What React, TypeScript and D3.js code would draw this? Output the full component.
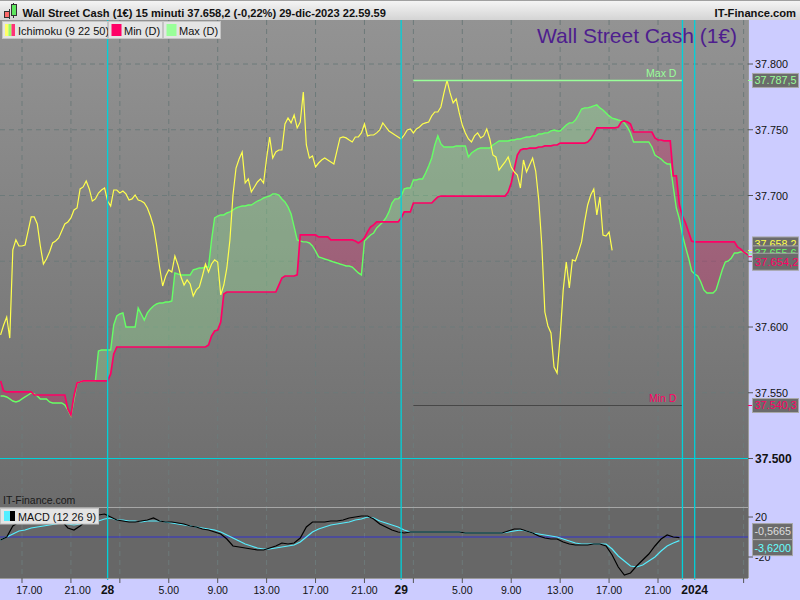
import React, { useEffect } from "react";
import * as d3 from "d3";

// ---------- DATA ----------
// 15-minute bars, first bar at 27-dic 15:15 (hours counted from 27-dic 00:00)
const START_HOUR = 15.25;
const BAR_HOURS = 0.25;

// Ichimoku chikou span (yellow)
const chikou = [
  37594.0, 37601.5, 37607.6, 37591.6, 37658.6, 37666.2, 37661.6, 37661.6, 37662.4, 37673.0,
  37683.7, 37683.7, 37678.4, 37661.6, 37647.9, 37651.7, 37657.1, 37663.9, 37665.4, 37667.7,
  37673.0, 37678.4, 37679.9, 37682.9, 37689.0, 37690.5, 37705.0, 37706.5, 37711.0, 37705.0,
  37695.8, 37697.4, 37701.9, 37704.2, 37705.7, 37695.8, 37692.0, 37704.2, 37704.2, 37701.9,
  37703.4, 37701.2, 37696.6, 37697.4, 37700.4, 37696.6, 37695.8, 37694.3, 37690.5, 37684.4,
  37676.8, 37662.4, 37645.6, 37631.2, 37638.8, 37643.4, 37641.8, 37654.0, 37647.2, 37638.0,
  37631.9, 37635.8, 37632.7, 37623.6, 37628.2, 37630.4, 37638.8, 37647.9, 37641.8, 37647.9,
  37651.0, 37649.4, 37624.4, 37631.9, 37644.9, 37666.2, 37700.4, 37720.9, 37727.8, 37733.1,
  37709.5, 37712.6, 37702.7, 37706.5, 37710.3, 37712.6, 37709.5, 37728.5, 37744.5, 37728.5,
  37733.1, 37734.6, 37734.6, 37754.4, 37758.9, 37755.2, 37761.2, 37751.4, 37755.9, 37778.7,
  37738.4, 37728.5, 37730.1, 37721.7, 37724.7, 37727.0, 37728.5, 37727.0, 37725.5, 37724.0,
  37733.9, 37743.8, 37744.5, 37743.8, 37742.2, 37740.7, 37744.5, 37744.5, 37747.6, 37754.4,
  37745.3, 37746.0, 37746.0, 37747.6, 37749.8, 37755.2, 37752.1, 37749.1, 37747.6, 37746.0,
  37744.5, 37743.0, 37746.0, 37749.8, 37750.6, 37747.6, 37750.6, 37752.1, 37754.4, 37755.2,
  37755.9, 37760.5, 37763.5, 37763.5, 37767.3, 37778.0, 37787.5, 37778.0, 37770.4, 37773.4,
  37762.8, 37753.6, 37747.6, 37743.0, 37740.7, 37745.3, 37747.6, 37743.8, 37745.3, 37750.6,
  37743.0, 37730.8, 37729.3, 37719.4, 37722.5, 37725.5, 37729.3, 37721.7, 37717.9, 37715.6,
  37705.7, 37727.0, 37717.9, 37723.2, 37728.5, 37718.6, 37696.6, 37662.4, 37611.4, 37600.8,
  37595.5, 37569.6, 37565.0, 37592.4, 37628.2, 37649.4, 37629.7, 37651.0, 37650.2, 37657.1,
  37664.7, 37679.9, 37692.8, 37700.4, 37705.0, 37685.2, 37698.9, 37669.9, 37669.1, 37672.2,
  37658.2,
];

// Senkou span A (green)
const spanA = [
  37547.5, 37547.5, 37546.8, 37545.3, 37543.7, 37543.0, 37543.7, 37545.3, 37546.8, 37548.3,
  37549.8, 37549.1, 37547.5, 37545.3, 37545.3, 37545.3, 37543.0, 37542.2, 37542.2, 37542.2,
  37542.2, 37540.7, 37536.9, 37532.3, 37544.5, 37557.4, 37558.2, 37559.0, 37559.0, 37559.0,
  37559.0, 37559.0, 37581.8, 37582.5, 37582.5, 37582.5, 37582.5, 37601.5, 37608.4, 37609.9,
  37610.7, 37600.0, 37600.0, 37600.0, 37600.0, 37614.4, 37609.9, 37605.3, 37610.7, 37613.7,
  37616.0, 37617.5, 37618.3, 37618.3, 37619.0, 37619.0, 37619.8, 37641.1, 37640.3, 37639.6,
  37639.6, 37639.6, 37639.6, 37643.4, 37644.1, 37644.9, 37644.9, 37645.6, 37645.6, 37666.2,
  37682.9, 37684.4, 37685.2, 37685.2, 37686.7, 37687.5, 37689.0, 37690.5, 37691.3, 37692.0,
  37692.0, 37692.8, 37692.8, 37694.3, 37695.8, 37696.6, 37698.1, 37698.9, 37699.6, 37701.2,
  37701.2, 37700.4, 37697.4, 37695.1, 37691.3, 37686.0, 37676.1, 37666.2, 37665.4, 37664.7,
  37664.7, 37663.9, 37661.6, 37657.8, 37653.3, 37652.5, 37651.7, 37651.0, 37650.2, 37649.4,
  37648.7, 37647.9, 37647.2, 37646.4, 37646.4, 37645.6, 37643.4, 37641.1, 37639.6, 37665.4,
  37667.7, 37670.0, 37671.5, 37675.3, 37677.6, 37679.9, 37682.9, 37687.5, 37694.3, 37697.4,
  37697.4, 37699.6, 37705.0, 37705.7, 37705.7, 37711.8, 37711.8, 37712.6, 37712.6, 37717.1,
  37722.5, 37728.5, 37738.4, 37745.3, 37739.2, 37736.9, 37736.9, 37736.9, 37736.9, 37737.7,
  37737.7, 37737.7, 37737.7, 37729.3, 37732.3, 37733.9, 37735.4, 37736.1, 37736.1, 37736.1,
  37736.1, 37738.4, 37739.9, 37741.5, 37741.5, 37741.5, 37741.5, 37742.2, 37742.2, 37743.0,
  37743.0, 37743.8, 37744.5, 37744.5, 37745.3, 37745.3, 37746.8, 37746.8, 37747.6, 37747.6,
  37749.1, 37749.8, 37749.1, 37749.1, 37751.4, 37753.6, 37755.2, 37755.2, 37757.4, 37761.2,
  37765.8, 37766.6, 37766.6, 37767.3, 37768.1, 37768.9, 37766.6, 37765.0, 37762.8, 37760.5,
  37758.9, 37758.2, 37757.4, 37756.7, 37755.2, 37752.1, 37747.6, 37740.7, 37740.7, 37740.7,
  37740.7, 37740.7, 37740.7, 37736.9, 37730.8, 37729.3, 37727.8, 37725.5, 37724.0, 37724.0,
  37706.5, 37690.5, 37682.2, 37670.0, 37660.9, 37652.5, 37642.6, 37640.3, 37638.8, 37634.2,
  37628.2, 37625.9, 37625.9, 37625.9, 37628.2, 37635.8, 37643.4, 37649.4, 37650.2, 37652.5,
  37656.3, 37656.3, 37657.1, 37657.1, 37656.3, 37655.6,
];

// Senkou span B (red)
const spanB = [
  37559.0, 37551.4, 37550.6, 37550.6, 37550.6, 37550.6, 37550.6, 37550.6, 37550.6, 37550.6,
  37550.6, 37548.3, 37548.3, 37548.3, 37548.3, 37548.3, 37548.3, 37548.3, 37548.3, 37548.3,
  37548.3, 37548.3, 37537.7, 37533.1, 37547.5, 37557.4, 37558.2, 37559.0, 37559.0, 37559.0,
  37559.0, 37559.0, 37559.0, 37559.0, 37559.0, 37559.0, 37564.3, 37579.5, 37584.8, 37584.8,
  37584.8, 37584.8, 37584.8, 37584.8, 37584.8, 37584.8, 37584.8, 37584.8, 37584.8, 37584.8,
  37584.8, 37584.8, 37584.8, 37584.8, 37584.8, 37584.8, 37584.8, 37584.8, 37584.8, 37584.8,
  37584.8, 37584.8, 37584.8, 37584.8, 37584.8, 37584.8, 37584.8, 37584.8, 37586.3, 37593.2,
  37597.0, 37597.7, 37603.8, 37625.1, 37626.6, 37626.6, 37626.6, 37626.6, 37626.6, 37626.6,
  37626.6, 37626.6, 37626.6, 37626.6, 37626.6, 37626.6, 37626.6, 37626.6, 37626.6, 37626.6,
  37626.6, 37631.9, 37637.3, 37638.8, 37638.8, 37638.8, 37638.8, 37639.6, 37670.0, 37670.0,
  37670.0, 37670.0, 37670.0, 37670.0, 37668.5, 37668.5, 37668.5, 37668.5, 37666.2, 37666.2,
  37666.2, 37666.2, 37666.2, 37666.2, 37666.2, 37666.2, 37665.4, 37663.9, 37665.4, 37667.7,
  37672.3, 37676.1, 37677.6, 37679.9, 37679.9, 37679.9, 37679.9, 37679.9, 37679.9, 37679.9,
  37679.9, 37682.9, 37687.5, 37687.5, 37687.5, 37694.3, 37694.3, 37694.3, 37694.3, 37694.3,
  37694.3, 37694.3, 37696.6, 37698.9, 37699.6, 37699.6, 37699.6, 37699.6, 37699.6, 37699.6,
  37699.6, 37699.6, 37699.6, 37699.6, 37699.6, 37699.6, 37699.6, 37699.6, 37699.6, 37699.6,
  37699.6, 37699.6, 37699.6, 37699.6, 37699.6, 37699.6, 37702.7, 37709.5, 37720.2, 37730.8,
  37734.6, 37735.4, 37735.4, 37736.1, 37736.1, 37736.1, 37736.9, 37736.9, 37737.7, 37737.7,
  37737.7, 37738.4, 37738.4, 37739.9, 37739.9, 37739.9, 37739.9, 37739.9, 37739.9, 37739.9,
  37739.9, 37739.9, 37740.7, 37743.0, 37746.8, 37751.4, 37751.4, 37751.4, 37751.4, 37751.4,
  37751.4, 37751.4, 37752.1, 37755.9, 37756.7, 37755.9, 37754.4, 37748.3, 37748.3, 37748.3,
  37748.3, 37748.3, 37748.3, 37748.3, 37743.8, 37742.2, 37742.2, 37741.5, 37741.5, 37741.5,
  37714.9, 37714.9, 37692.8, 37684.4, 37679.1, 37672.3, 37665.4, 37664.7, 37664.7, 37664.7,
  37664.7, 37664.7, 37664.7, 37664.7, 37664.7, 37664.7, 37664.7, 37664.7, 37664.7, 37664.7,
  37664.7, 37660.9, 37659.4, 37657.1, 37655.6, 37654.2,
];

// MACD (12 26 9), one value every half hour from the first bar
const MACD_STEP = 0.5;
const macdLine = [
  -3, 0, 11, 15, 18, 19, 20, 20, 19, 18,
  16, 9, 7, 11, 16, 18, 22, 23, 20, 17,
  16, 15, 15, 16, 17, 19, 16, 15, 15, 14,
  13, 11, 10, 8, 7, 5, 3, -2, -9, -10,
  -11, -12, -13, -13, -11, -9, -6, -7, -6, -1,
  10, 15, 15, 15, 16, 16, 17, 19, 20, 21,
  21, 18, 13, 10, 7, 5, 4, 5, 5, 5,
  5, 5, 5, 5, 5, 5, 4, 4, 4, 4,
  4, 4, 4, 6, 8, 8, 6, 4, 1, -1,
  -2, -2, -5, -7, -8, -8, -8, -7, -7, -9,
  -18, -30, -38, -36, -29, -23, -17, -9, -2, 2,
  0, -0.5665,
];
const signalLine = [
  -3, 0, 3, 6, 7, 9, 10, 11, 12, 13,
  14, 13, 12, 13, 14, 15, 16, 18, 19, 17,
  17, 16, 16, 15, 16, 16, 16, 15, 14, 13,
  12, 11, 10, 9, 8, 7, 5, 2, -1, -4,
  -7, -9, -11, -12, -12, -11, -10, -9, -8, -5,
  0, 5, 8, 10, 12, 13, 14, 15, 17, 18,
  20, 19, 16, 14, 12, 10, 7, 5, 5, 5,
  5, 5, 5, 5, 5, 5, 4, 4, 4, 4,
  4, 4, 4, 5, 6, 7, 6, 4, 3, 2,
  1, 0, -2, -4, -6, -7, -7, -7, -7, -7,
  -12, -19, -24, -29, -30, -28, -24, -20, -14, -9,
  -6, -3.62,
];

const maxD = 37787.5;
const minD = 37540.3;
const dayStartHour = 49; // 29-dic 1.00
const lastBarHour = 71; // 29-dic 23.00

const gridHours = [17, 21, 25, 29, 33, 37, 41, 45, 49, 53, 57, 61, 65, 69, 76];
const separatorHours = [24, 48, 71, 72];
const axisLabelHours = [17.6, 21.55, 24, 29, 33, 37, 41, 45, 48, 53, 57, 61, 65, 69, 72];
const axisLabels = ["17.00", "21.00", "28", "5.00", "9.00", "13.00", "17.00", "21.00", "29", "5.00", "9.00", "13.00", "17.00", "21.00", "2024"];
const axisLabelBold = [false, false, true, false, false, false, false, false, true, false, false, false, false, false, true];
const priceGrid = [37550, 37600, 37650, 37700, 37750, 37800];
const priceLabels = [37500, 37550, 37600, 37700, 37750, 37800];
const referenceLevel = 37500;
const macdTicks = [-20, 20];

const headerText = "Wall Street Cash (1€) 15 minuti 37.658,2 (-0,22%) 29-dic-2023 22.59.59";
const legendItems = ["Ichimoku (9 22 50)", "Min (D)", "Max (D)"];

// ---------- STYLE ----------
const FONT = "'Liberation Sans', Arial, sans-serif";
const YELLOW = "#ffff4d";
const GREEN = "#66ff66";
const RED = "#ff0066";
const MAXC = "#99ff99";
const CYAN = "#00d2da";
const PL = 0, PR = 748, MT = 20, MB = 507, KB = 578;

const itLocale = d3.formatLocale({ decimal: ",", thousands: ".", grouping: [3], currency: ["", "€"], minus: "-" } as any);
const fmtAxis = itLocale.format(",.0f");
const fmtPrice = itLocale.format(",.1f");
const fmtMacd = itLocale.format(".4f");

function ValueBox({ yc, text, color, h = 14, fs = 10.8, w = 46 }: any) {
  return (
    <g>
      <rect x={752.5} y={yc - h / 2} width={w} height={h} fill="#6b6b6b" stroke="#a8a8a8" />
      <text x={754.5} y={yc + fs * 0.36} fill={color} fontSize={fs}>{text}</text>
    </g>
  );
}

export default function App() {
  useEffect(() => {
    document.body.style.margin = "0";
  }, []);

  const x = d3.scaleLinear().domain([17, 69]).range([22, 658]);
  const y = d3.scaleLinear().domain([37500, 37800]).range([458.5, 64]);
  const ym = d3.scaleLinear().domain([0, 20]).range([537, 517]);

  const cloud = spanA.map((a, i) => ({ h: START_HOUR + i * BAR_HOURS, a, b: spanB[i] }));
  type CP = typeof cloud[number];
  const between = d3.area<CP>().x((d) => x(d.h)).y0((d) => y(d.a)).y1((d) => y(d.b));
  const aboveB = d3.area<CP>().x((d) => x(d.h)).y0(MT).y1((d) => y(d.b));
  const belowB = d3.area<CP>().x((d) => x(d.h)).y0(MB).y1((d) => y(d.b));
  const lineA = d3.line<CP>().x((d) => x(d.h)).y((d) => y(d.a));
  const lineB = d3.line<CP>().x((d) => x(d.h)).y((d) => y(d.b));
  const lineChikou = d3.line<number>().x((_, i) => x(START_HOUR + i * BAR_HOURS)).y((v) => y(v));
  const lineMacd = d3.line<number>().x((_, i) => x(START_HOUR + i * MACD_STEP)).y((v) => ym(v));

  const lastY = chikou[chikou.length - 1];
  const lastA = spanA[spanA.length - 1];
  const lastB = spanB[spanB.length - 1];

  let lx = 2;
  const legendBoxes = [
    { w: 105, label: legendItems[0], icon: "ichi" },
    { w: 54, label: legendItems[1], icon: RED },
    { w: 57, label: legendItems[2], icon: MAXC },
  ].map((b) => {
    const r = { ...b, x: lx };
    lx += b.w + 1;
    return r;
  });

  return (
    <svg width={800} height={600} style={{ position: "absolute", left: 0, top: 0, display: "block" }} fontFamily={FONT}>
      <defs>
        <linearGradient id="hdr" x1="0" y1="0" x2="0" y2="1">
          <stop offset="0" stopColor="#f6f6f6" />
          <stop offset="1" stopColor="#d4d4d4" />
        </linearGradient>
        <linearGradient id="mainbg" x1="0" y1="0" x2="0" y2="1">
          <stop offset="0" stopColor="#939393" />
          <stop offset="1" stopColor="#6c6c6c" />
        </linearGradient>
        <clipPath id="mainClip"><rect x={PL} y={MT} width={PR - PL} height={MB - MT} /></clipPath>
        <clipPath id="macdClip"><rect x={PL} y={MB} width={PR - PL} height={KB - MB} /></clipPath>
        <clipPath id="aboveB"><path d={aboveB(cloud) || ""} /></clipPath>
        <clipPath id="belowB"><path d={belowB(cloud) || ""} /></clipPath>
      </defs>

      {/* panels */}
      <rect x={0} y={0} width={800} height={600} fill="#ccccff" />
      <rect x={PL} y={MT} width={PR - PL} height={MB - MT} fill="url(#mainbg)" />
      <rect x={PL} y={MB} width={PR - PL} height={KB - MB} fill="#676767" />

      {/* grid */}
      {priceGrid.map((p) => (
        <line key={"hg" + p} x1={PL} x2={PR} y1={y(p)} y2={y(p)} stroke="#6d7a7a" strokeDasharray="5,4" />
      ))}
      {gridHours.map((h) => (
        <line key={"vg" + h} x1={x(h)} x2={x(h)} y1={MT} y2={KB} stroke="#6d7a7a" strokeDasharray="5,4" />
      ))}

      {/* cloud + lines */}
      <g clipPath="url(#mainClip)">
        <path d={between(cloud) || ""} fill="rgba(153,255,153,0.28)" clipPath="url(#aboveB)" />
        <path d={between(cloud) || ""} fill="rgba(255,0,102,0.24)" clipPath="url(#belowB)" />
        <path d={lineA(cloud) || ""} fill="none" stroke={GREEN} strokeWidth={1.4} />
        <path d={lineB(cloud) || ""} fill="none" stroke={RED} strokeWidth={1.7} />
        <path d={lineChikou(chikou) || ""} fill="none" stroke={YELLOW} strokeWidth={1.2} />
        {/* daily max / min */}
        <line x1={x(dayStartHour)} x2={x(lastBarHour)} y1={y(maxD)} y2={y(maxD)} stroke={MAXC} strokeWidth={1.5} />
        <text x={x(lastBarHour) - 6} y={y(maxD) - 3.5} fill={MAXC} fontSize={10.5} textAnchor="end">Max D</text>
        <line x1={x(dayStartHour)} x2={x(lastBarHour)} y1={y(minD)} y2={y(minD)} stroke="#474747" strokeWidth={1} />
        <text x={x(lastBarHour) - 6} y={y(minD) - 3.5} fill={RED} fontSize={10.5} textAnchor="end">Min D</text>
      </g>

      {/* reference level */}
      <line x1={PL} x2={PR} y1={y(referenceLevel)} y2={y(referenceLevel)} stroke={CYAN} strokeWidth={1.2} />

      {/* MACD */}
      <line x1={PL} x2={PR} y1={ym(0)} y2={ym(0)} stroke="#3333cc" strokeWidth={1.2} />
      <g clipPath="url(#macdClip)">
        <path d={lineMacd(signalLine) || ""} fill="none" stroke="#55eeff" strokeWidth={1.2} />
        <path d={lineMacd(macdLine) || ""} fill="none" stroke="#000" strokeWidth={1.2} />
      </g>
      <line x1={PL} x2={PR} y1={MB + 0.5} y2={MB + 0.5} stroke="#a6a6a6" />

      {/* day separators */}
      {separatorHours.map((h) => (
        <line key={"sep" + h} x1={x(h)} x2={x(h)} y1={MT} y2={KB + 2} stroke={CYAN} strokeWidth={1.3} />
      ))}

      {/* header */}
      <rect x={0} y={0} width={800} height={MT} fill="url(#hdr)" />
      <line x1={0} x2={800} y1={0.5} y2={0.5} stroke="#a0a0a0" />
      <line x1={9.5} x2={9.5} y1={9} y2={19} stroke="#333" />
      <rect x={4.5} y={11.5} width={5} height={6} fill="#ff6a6a" stroke="#333" />
      <line x1={13.5} x2={13.5} y1={3} y2={18} stroke="#333" />
      <rect x={11.5} y={4.5} width={5} height={11} fill="#5ee65e" stroke="#333" />
      <text x={22.5} y={16.5} fontSize={11.1} fontWeight="bold" fill="#111">{headerText}</text>
      <text x={796} y={16.5} fontSize={11.2} fontWeight="bold" fill="#111" textAnchor="end">IT-Finance.com</text>

      {/* legend */}
      {legendBoxes.map((b, i) => (
        <g key={"lg" + i}>
          <rect x={b.x + 0.5} y={21.5} width={b.w} height={17} fill="#e4e4e4" stroke="#c4c4c4" />
          {b.icon === "ichi" ? (
            <g>
              <rect x={b.x + 3} y={24} width={3.5} height={12} fill="#ffff66" />
              <rect x={b.x + 6.5} y={24} width={3} height={12} fill="#99ff66" />
              <rect x={b.x + 9.5} y={24} width={3.5} height={12} fill="#ff3377" />
            </g>
          ) : (
            <rect x={b.x + 3.5} y={24} width={10} height={12} fill={b.icon} />
          )}
          <text x={b.x + 16} y={34.5} fontSize={11} fill="#111">{b.label}</text>
        </g>
      ))}

      <text x={737} y={43} fontSize={21} fill="#4e1e8e" textAnchor="end">Wall Street Cash (1€)</text>
      <text x={3} y={503.5} fontSize={10.5} fill="#1a1a1a">IT-Finance.com</text>

      {/* MACD legend */}
      <rect x={0.5} y={508.5} width={98} height={15.5} fill="#e4e4e4" stroke="#c4c4c4" />
      <rect x={4} y={511} width={6} height={10} fill="#55eeff" />
      <rect x={10} y={511} width={5} height={10} fill="#000" />
      <text x={18} y={520.5} fontSize={10.8} fill="#111">MACD (12 26 9)</text>

      {/* borders */}
      <line x1={PR + 0.5} x2={PR + 0.5} y1={MT} y2={KB} stroke="#9a9a9a" />
      <line x1={0} x2={PR} y1={KB + 0.5} y2={KB + 0.5} stroke="#9a9a9a" />

      {/* right price axis */}
      {priceGrid.concat([referenceLevel]).map((p) => (
        <line key={"ptk" + p} x1={PR} x2={PR + 5} y1={y(p)} y2={y(p)} stroke="#555" />
      ))}
      {priceLabels.map((p) => (
        <text key={"pt" + p} x={755} y={y(p) + 4} fontSize={p === referenceLevel ? 12 : 10.8} fontWeight={p === referenceLevel ? "bold" : "normal"} fill="#111">
          {fmtAxis(p)}
        </text>
      ))}
      {macdTicks.map((v) => (
        <g key={"mt" + v}>
          <line x1={PR} x2={PR + 5} y1={ym(v)} y2={ym(v)} stroke="#555" />
          <text x={755} y={ym(v) + 4} fontSize={10.8} fill="#111">{v}</text>
        </g>
      ))}

      {/* value boxes */}
      <line x1={PR} x2={PR + 5} y1={y(maxD)} y2={y(maxD)} stroke={MAXC} />
      <ValueBox yc={y(maxD)} text={fmtPrice(maxD)} color={MAXC} />
      <line x1={PR} x2={PR + 5} y1={y(lastY)} y2={y(lastY)} stroke={YELLOW} />
      <line x1={PR} x2={PR + 5} y1={y(lastA)} y2={y(lastA)} stroke={GREEN} />
      <line x1={PR} x2={PR + 5} y1={y(lastB) + 1} y2={y(lastB) + 1} stroke={RED} />
      <ValueBox yc={y(lastY) - 6.5} text={fmtPrice(lastY)} color={YELLOW} />
      <ValueBox yc={y(lastA) - 1} text={fmtPrice(lastA)} color={GREEN} />
      <ValueBox yc={y(lastB) + 6} text={fmtPrice(lastB)} color={RED} h={17} fs={11.3} />
      <line x1={PR} x2={PR + 5} y1={y(minD)} y2={y(minD)} stroke={RED} />
      <ValueBox yc={y(minD)} text={fmtPrice(minD)} color={RED} />
      <ValueBox yc={ym(macdLine[macdLine.length - 1]) - 6} text={fmtMacd(macdLine[macdLine.length - 1])} color="#dddddd" h={16} w={40} />
      <ValueBox yc={ym(signalLine[signalLine.length - 1]) + 7} text={fmtMacd(signalLine[signalLine.length - 1])} color="#66ffff" h={16} w={40} />

      {/* bottom time axis */}
      {gridHours.map((h) => (
        <line key={"bt" + h} x1={x(h)} x2={x(h)} y1={KB} y2={KB + 5} stroke="#555" />
      ))}
      {axisLabels.map((l, i) => (
        <text
          key={"bl" + i}
          x={x(axisLabelHours[i])}
          y={594}
          textAnchor="middle"
          fontSize={axisLabelBold[i] ? 12 : 10.5}
          fontWeight={axisLabelBold[i] ? "bold" : "normal"}
          fill="#111"
        >
          {l}
        </text>
      ))}
    </svg>
  );
}
